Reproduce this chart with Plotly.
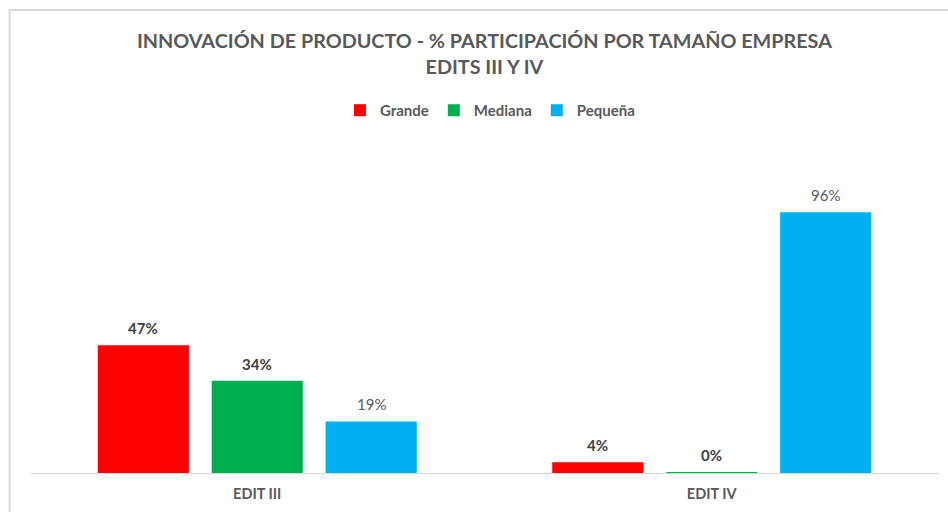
import plotly.graph_objects as go

categories = ["EDIT III", "EDIT IV"]
series_names = ["Grande", "Mediana", "Pequeña"]
grande = [47, 4]
mediana = [34, 0.2]
pequena = [19, 96]

colors = ["#FF0000", "#00B050", "#00B0F0"]
label_bold = [True, True, False]
series_values = [grande, mediana, pequena]

FONT = "Lato, 'Open Sans', sans-serif"

fig = go.Figure()
for name, vals, col in zip(series_names, series_values, colors):
    fig.add_trace(go.Bar(
        name=name, x=categories, y=vals, marker=dict(color=col, line=dict(width=0)),
    ))

# data labels as annotations in data coordinates
offsets = [-0.2505, 0.0, 0.2505]
for i, vals in enumerate(series_values):
    for j, v in enumerate(vals):
        fig.add_annotation(
            x=j + offsets[i], y=v, xref="x", yref="y",
            text=f"{round(v)}%", showarrow=False, yanchor="bottom", yshift=6,
            font=dict(family=FONT, size=15,
                      color="#404040" if label_bold[i] else "#595959",
                      weight="bold" if label_bold[i] else "normal"),
        )

# chart-area border
fig.add_shape(type="rect", xref="paper", yref="paper",
              x0=-0.0225, y0=-0.3, x1=1.05, y1=1.42,
              line=dict(color="#D9D9D9", width=2), fillcolor="rgba(0,0,0,0)", layer="below")

fig.update_layout(
    width=948, height=512,
    margin=dict(l=29.5, r=8.5, t=146.6, b=39),
    paper_bgcolor="white", plot_bgcolor="white",
    barmode="group", bargap=0.248, bargroupgap=0.2,
    title=dict(
        text="INNOVACIÓN DE PRODUCTO - % PARTICIPACIÓN POR TAMAÑO EMPRESA<br>EDITS III Y IV",
        x=0.511, xanchor="center", y=1 - 48 / 512, yanchor="middle", yref="container",
        font=dict(family=FONT, size=19.8, color="#595959", weight="bold"),
    ),
    legend=dict(
        orientation="h", x=0.506, xanchor="center", y=1.112, yanchor="middle",
        font=dict(family=FONT, size=15, color="#595959", weight="bold"),
        itemwidth=30, traceorder="normal",
    ),
    showlegend=True,
    xaxis=dict(
        type="category", showline=True, linecolor="#D9D9D9", linewidth=1,
        ticks="", showgrid=False, ticklabelstandoff=8,
        tickfont=dict(family=FONT, size=14.5, color="#595959", weight="bold"),
    ),
    yaxis=dict(range=[0, 120], visible=False, showgrid=False, zeroline=False),
)

fig.write_html("out.html", config={"displayModeBar": False},
               post_script="document.body.style.margin='0px';")
